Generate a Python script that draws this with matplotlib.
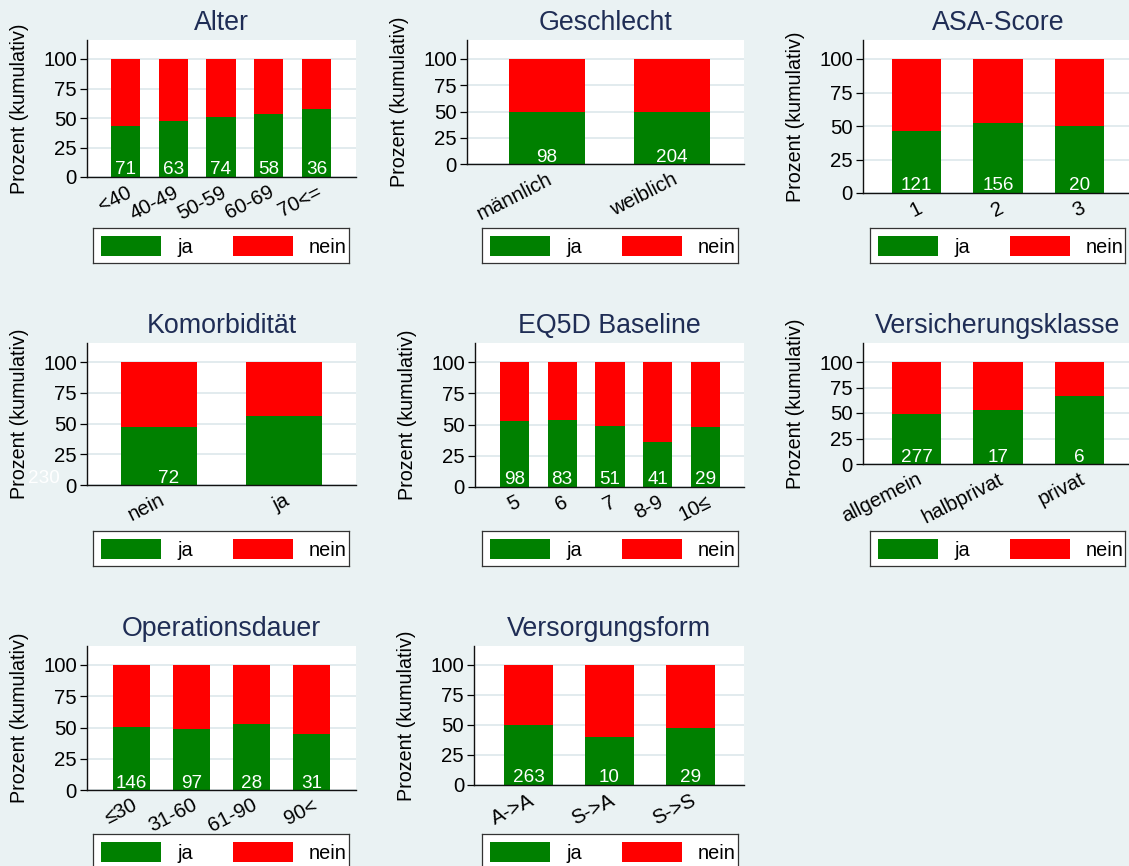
import numpy as np
import matplotlib
matplotlib.use('Agg')
import matplotlib.pyplot as plt
from matplotlib.patches import Rectangle
import matplotlib.transforms as mtransforms

plt.rcParams['font.family'] = ['Liberation Sans', 'DejaVu Sans']

# ---------------- data ----------------
alter_cats = ['<40', '40-49', '50-59', '60-69', '70<=']
alter_ja = [43.3, 47.3, 50.7, 53.5, 57.5]
alter_n = [71, 63, 74, 58, 36]

geschlecht_cats = ['männlich', 'weiblich']
geschlecht_ja = [50.0, 50.0]
geschlecht_n = [98, 204]

asa_cats = ['1', '2', '3']
asa_ja = [46.3, 51.9, 50.0]
asa_n = [121, 156, 20]

komorb_cats = ['nein', 'ja']
komorb_ja = [47.2, 56.4]
komorb_n = [230, 72]

eq5d_cats = ['5', '6', '7', '8-9', '10≤']
eq5d_ja = [52.7, 54.0, 49.2, 36.4, 48.1]
eq5d_n = [98, 83, 51, 41, 29]

versich_cats = ['allgemein', 'halbprivat', 'privat']
versich_ja = [49.5, 52.9, 66.7]
versich_n = [277, 17, 6]

opdauer_cats = ['≤30', '31-60', '61-90', '90<']
opdauer_ja = [50.4, 48.8, 53.1, 45.1]
opdauer_n = [146, 97, 28, 31]

versorg_cats = ['A->A', 'S->A', 'S->S']
versorg_ja = [50.0, 40.0, 47.8]
versorg_n = [263, 10, 29]

legend_labels = ['ja', 'nein']
y_ticks = [0, 25, 50, 75, 100]

# ---------------- style ----------------
W, H = 1129, 866
BG = '#EAF2F3'
GRID = '#E2EBEE'
GREEN = '#008000'
RED = '#FF0000'
TITLE_C = '#1F2D55'

fig = plt.figure(figsize=(W / 100, H / 100), dpi=100)
fig.patch.set_facecolor(BG)


def panel(box, title, cats, ja, n, xlim, label_shift=0.0):
    l, t, r, b = box
    ax = fig.add_axes([l / W, 1 - b / H, (r - l) / W, (b - t) / H])
    ax.set_facecolor('white')
    pos = np.arange(1, len(cats) + 1)
    ja = np.asarray(ja, dtype=float)
    nein = 100 - ja
    ax.bar(pos, ja, width=0.61, color=GREEN, zorder=3, linewidth=0)
    ax.bar(pos, nein, bottom=ja, width=0.61, color=RED, zorder=3, linewidth=0)
    hpx = b - t
    ax.set_ylim(0, 100 * hpx / (hpx - 19))
    ax.set_xlim(*xlim)
    ax.set_yticks(y_ticks)
    ax.yaxis.grid(True, color=GRID, linewidth=1.4, zorder=0)
    ax.set_axisbelow(True)
    ax.set_xticks(pos)
    ax.set_xticklabels(cats, rotation=27, ha='right', va='top',
                       rotation_mode='anchor', fontsize=14.7)
    ax.tick_params(axis='x', length=0, pad=4)
    ax.tick_params(axis='y', length=5, width=0.9, pad=2.2, labelsize=14.7,
                   color='black')
    for s in ['top', 'right']:
        ax.spines[s].set_visible(False)
    for s in ['left', 'bottom']:
        ax.spines[s].set_linewidth(1.0)
        ax.spines[s].set_color('#111111')
        ax.spines[s].set_zorder(4)
    ax.set_ylabel('Prozent (kumulativ)', fontsize=14.2, labelpad=10)
    ax.set_title(title, fontsize=19.3, color=TITLE_C, pad=7)
    tr = mtransforms.offset_copy(ax.transData, fig=fig, y=2.5, units='dots')
    for p, c in zip(pos + label_shift, n):
        ax.text(p, 0, str(c), transform=tr, ha='center', va='baseline',
                color='white', fontsize=13.6, zorder=6, clip_on=False)
    return ax


def legend_box(box):
    l, t, r, b = box
    lax = fig.add_axes([l / W, 1 - b / H, (r - l) / W, (b - t) / H])
    lax.set_facecolor('white')
    lax.set_xlim(0, r - l)
    lax.set_ylim(b - t, 0)
    lax.add_patch(Rectangle((8, 8), 60, 20, color=GREEN, linewidth=0))
    lax.text(84, 25, legend_labels[0], ha='left', va='baseline', fontsize=14.3)
    lax.add_patch(Rectangle((140, 8), 60, 20, color=RED, linewidth=0))
    lax.text(216, 25, legend_labels[1], ha='left', va='baseline', fontsize=14.3)
    lax.set_xticks([])
    lax.set_yticks([])
    for s in lax.spines.values():
        s.set_color('#333333')
        s.set_linewidth(0.9)


panel((87, 40, 356, 177), 'Alter', alter_cats, alter_ja, alter_n, (0.194, 5.827))
panel((467, 40, 744, 164), 'Geschlecht', geschlecht_cats, geschlecht_ja, geschlecht_n, (0.36, 2.576))
panel((863, 40, 1133, 193), 'ASA-Score', asa_cats, asa_ja, asa_n, (0.344, 3.656))
panel((87, 343, 356, 485), 'Komorbidität', komorb_cats, komorb_ja, komorb_n, (0.424, 2.576),
      label_shift=-0.92)
panel((475, 343, 744, 487), 'EQ5D Baseline', eq5d_cats, eq5d_ja, eq5d_n, (0.173, 5.806))
panel((863, 343, 1133, 464), 'Versicherungsklasse', versich_cats, versich_ja, versich_n, (0.344, 3.656))
panel((87, 646, 356, 790), 'Operationsdauer', opdauer_cats, opdauer_ja, opdauer_n, (0.258, 4.742))
panel((474, 646, 744, 785), 'Versorgungsform', versorg_cats, versorg_ja, versorg_n, (0.327, 3.66))

legend_box((93, 228, 349, 263))
legend_box((482, 228, 738, 263))
legend_box((870, 228, 1125, 263))
legend_box((93, 531, 349, 566))
legend_box((482, 531, 738, 566))
legend_box((870, 531, 1125, 566))
legend_box((93, 834, 349, 869))
legend_box((482, 834, 738, 869))

fig.savefig('out.png', dpi=100, facecolor=BG)
